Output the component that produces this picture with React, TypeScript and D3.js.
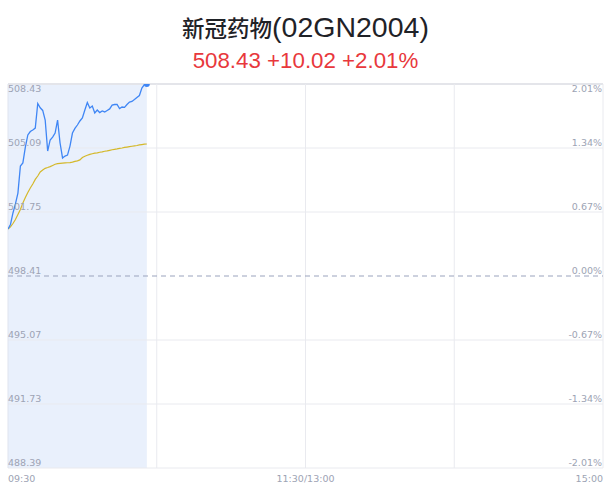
import React from "react";
import * as d3 from "d3";

const W = 611;
const H = 492;

const titleCjk = "新冠药物";
const titleCode = "(02GN2004)";
const quoteText = "508.43 +10.02 +2.01%";

const basePrice = 498.41;
const leftTicks = [508.43, 505.09, 501.75, 498.41, 495.07, 491.73, 488.39];
const rightTicks = ["2.01%", "1.34%", "0.67%", "0.00%", "-0.67%", "-1.34%", "-2.01%"];
const timeLabels = ["09:30", "11:30/13:00", "15:00"];
const totalMinutes = 240;

const priceSeries = [
  500.86, 501.10, 501.70, 502.17, 502.74, 504.15, 504.31, 505.14, 505.77, 505.95,
  506.03, 506.13, 507.41, 507.19, 507.05, 506.55, 504.93, 505.51, 505.66, 505.87,
  506.55, 505.35, 504.57, 504.67, 504.72, 505.19, 505.87, 506.11, 506.29, 506.50,
  506.66, 507.07, 507.46, 507.18, 507.28, 506.92, 507.07, 506.94, 507.02, 506.97,
  507.05, 507.13, 507.33, 507.36, 507.36, 507.15, 507.23, 507.21, 507.36, 507.49,
  507.52, 507.62, 507.73, 507.83, 508.22, 508.40, 508.43,
];

const avgSeries = [
  500.86, 500.97, 501.15, 501.36, 501.62, 501.88, 502.22, 502.51, 502.77, 503.00,
  503.21, 503.45, 503.63, 503.84, 503.94, 504.03, 504.07, 504.12, 504.18, 504.24,
  504.27, 504.29, 504.30, 504.31, 504.32, 504.33, 504.35, 504.39, 504.42, 504.47,
  504.59, 504.66, 504.71, 504.76, 504.79, 504.82, 504.84, 504.87, 504.89, 504.92,
  504.94, 504.97, 505.00, 505.02, 505.04, 505.07, 505.09, 505.12, 505.14, 505.16,
  505.18, 505.20, 505.22, 505.25, 505.27, 505.29, 505.30,
];

export default function App() {
  const left = 8;
  const right = 603;
  const top = 84;
  const bottom = 468;

  const x = d3.scaleLinear().domain([0, totalMinutes]).range([left, right]);
  const y = d3
    .scaleLinear()
    .domain([leftTicks[leftTicks.length - 1], leftTicks[0]])
    .range([bottom, top]);

  const priceLine = d3
    .line<number>()
    .x((_, i) => x(i))
    .y((d) => y(d));

  const lastIdx = priceSeries.length - 1;
  const labelFont = "'DejaVu Sans', sans-serif";
  const labelColor = "#9da3b4";
  const gridColor = "#e9eaef";

  return (
    <svg
      width={W}
      height={H}
      style={{ position: "absolute", left: 0, top: 0, background: "#fff" }}
    >
      <defs>
        <clipPath id="plotClip">
          <rect x={left} y={top} width={right - left} height={bottom - top} />
        </clipPath>
      </defs>
      <text x={W / 2} y={37} textAnchor="middle" fill="#1f2227">
        <tspan
          fontFamily="'Noto Sans CJK SC', sans-serif"
          fontSize={22.5}
          fontWeight={500}
        >
          {titleCjk}
        </tspan>
        <tspan fontFamily="'Liberation Sans', Arial, sans-serif" fontSize={28.5}>
          {titleCode}
        </tspan>
      </text>
      <text
        x={W / 2}
        y={68}
        textAnchor="middle"
        fontFamily="'Liberation Sans', Arial, sans-serif"
        fontSize={22.3}
        fill="#e8383c"
      >
        {quoteText}
      </text>

      {/* data range background */}
      <rect
        x={x(0)}
        y={top}
        width={x(lastIdx) - x(0)}
        height={bottom - top}
        fill="#e9f0fc"
      />

      {/* horizontal grid */}
      {leftTicks.map((t, i) =>
        i === 3 ? null : (
          <line
            key={"h" + i}
            x1={left}
            x2={right}
            y1={y(t)}
            y2={y(t)}
            stroke={i === 0 ? "#e4e5ea" : gridColor}
            strokeWidth={i === 0 ? 2 : 1}
          />
        )
      )}
      {/* vertical grid */}
      {[0, 60, 120, 180, 240].map((m, i) => (
        <line
          key={"v" + i}
          x1={x(m)}
          x2={x(m)}
          y1={top}
          y2={bottom}
          stroke={i === 0 ? "#dfe3ee" : gridColor}
          strokeWidth={1}
        />
      ))}
      {/* base line */}
      <line
        x1={left}
        x2={right}
        y1={y(basePrice)}
        y2={y(basePrice)}
        stroke="#9aa3bd"
        strokeWidth={1}
        strokeDasharray="5,4"
      />

      <g clipPath="url(#plotClip)">
        <path
          d={priceLine(avgSeries) || ""}
          fill="none"
          stroke="#d4b82a"
          strokeWidth={1.2}
        />
        <path
          d={priceLine(priceSeries) || ""}
          fill="none"
          stroke="#3f86f5"
          strokeWidth={1.3}
        />
        <circle cx={x(lastIdx)} cy={y(priceSeries[lastIdx])} r={3} fill="#3f86f5" />
      </g>

      {/* left labels */}
      {leftTicks.map((t, i) => (
        <text
          key={"l" + i}
          x={left}
          y={i === 0 ? y(t) + 8 : y(t) - 2}
          fontFamily={labelFont}
          fontSize={9.5}
          fill={labelColor}
        >
          {t.toFixed(2)}
        </text>
      ))}
      {/* right labels */}
      {rightTicks.map((t, i) => (
        <text
          key={"r" + i}
          x={right - 1}
          y={i === 0 ? y(leftTicks[i]) + 8 : y(leftTicks[i]) - 2}
          textAnchor="end"
          fontFamily={labelFont}
          fontSize={9.5}
          fill={labelColor}
        >
          {t}
        </text>
      ))}
      {/* time labels */}
      {timeLabels.map((t, i) => (
        <text
          key={"t" + i}
          x={x(i * 120)}
          y={482}
          textAnchor={i === 0 ? "start" : i === 1 ? "middle" : "end"}
          fontFamily={labelFont}
          fontSize={9.5}
          fill={labelColor}
        >
          {t}
        </text>
      ))}
    </svg>
  );
}
